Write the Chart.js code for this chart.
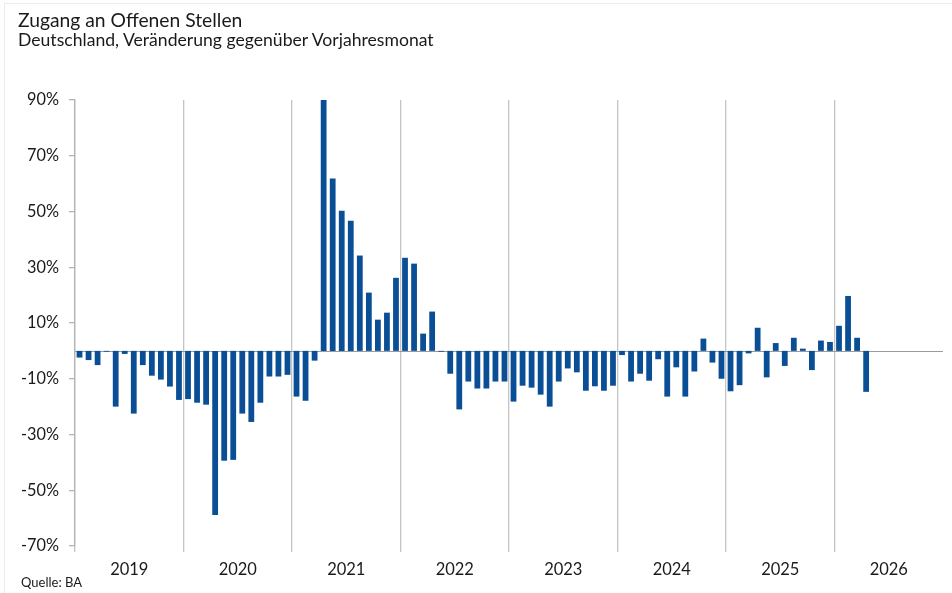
<!DOCTYPE html>
<html lang="de">
<head>
<meta charset="utf-8">
<title>Zugang an Offenen Stellen</title>
<script src="https://cdn.jsdelivr.net/npm/chart.js@4.4.1/dist/chart.umd.min.js"></script>
<style>
  body { margin: 0; background: #fff; font-family: Lato, "Open Sans", sans-serif; }
  #wrap { position: relative; width: 952px; height: 593px; overflow: hidden; }
  #frame { position: absolute; left: 4px; top: 3px; right: 0; bottom: 0;
           border-top: 1px solid #ececec; border-left: 1px solid #ececec; }
  canvas { position: absolute; left: 0; top: 0; }
  .txt { position: absolute; color: #1a1a1a; line-height: 1.2; white-space: nowrap; }
  #title { left: 18px; top: 8px; font-size: 19.3px; }
  #subtitle { left: 18px; top: 29px; font-size: 17.6px; }
  #source { left: 21px; top: 575px; font-size: 13px; }
</style>
</head>
<body>
<div id="wrap">
  <div id="frame"></div>
  <canvas id="chart" width="952" height="593"></canvas>
  <div class="txt" id="title">Zugang an Offenen Stellen</div>
  <div class="txt" id="subtitle">Deutschland, Veränderung gegenüber Vorjahresmonat</div>
  <div class="txt" id="source">Quelle: BA</div>
</div>
<script>
// ======== DATA (Veränderung ggü. Vorjahresmonat, %) ========
const years = ["2019", "2020", "2021", "2022", "2023", "2024", "2025", "2026"];

const v2019 = [-2.4, -3.3, -5.1, -0.3, -20.0, -1.1, -22.5, -5.1, -8.9, -10.3, -12.8, -17.6];
const v2020 = [-17.3, -18.6, -19.3, -58.9, -39.4, -39.1, -22.5, -25.5, -18.6, -9.2, -9.2, -8.6];
const v2021 = [-16.4, -17.9, -3.5, 91.0, 61.8, 50.3, 46.7, 34.2, 20.9, 11.2, 13.7, 26.2];
const v2022 = [33.4, 31.3, 6.2, 14.1, -0.3, -8.2, -21.0, -11.0, -13.5, -13.5, -11.0, -11.0];
const v2023 = [-18.2, -12.5, -13.2, -15.7, -20.0, -11.0, -6.3, -7.7, -14.3, -12.7, -14.3, -12.5];
const v2024 = [-1.5, -11.0, -8.2, -10.7, -3.0, -16.4, -5.9, -16.4, -7.4, 4.4, -4.2, -10.0];
const v2025 = [-14.5, -12.3, -0.9, 8.3, -9.5, 2.8, -5.4, 4.7, 0.8, -6.9, 3.7, 3.2];
const v2026 = [9.0, 19.7, 4.7, -14.7];

const yTicks = [-70, -50, -30, -10, 10, 30, 50, 70, 90];

// ======== BUILD MONTH AXIS ========
const monthLabels = [];
years.forEach((y) => {
    for (let m = 1; m <= 12; m++) monthLabels.push(y + "-" + String(m).padStart(2, "0"));
});

const values = [...v2019, ...v2020, ...v2021, ...v2022, ...v2023, ...v2024, ...v2025, ...v2026];
while (values.length < monthLabels.length) values.push(null);

// ======== ZERO LINE ========
const zeroLine = {
    id: "zeroLine",
    beforeDatasetsDraw(chart) {
        const { ctx, chartArea, scales } = chart;
        const y0 = Math.round(scales.y.getPixelForValue(0)) + 0.5;
        ctx.save();
        ctx.strokeStyle = "#9a9a9a";
        ctx.lineWidth = 1.2;
        ctx.beginPath();
        ctx.moveTo(chartArea.left, y0);
        ctx.lineTo(chartArea.right, y0);
        ctx.stroke();
        ctx.restore();
    },
};

// ======== CHART ========
new Chart(document.getElementById("chart"), {
    type: "bar",
    data: {
        labels: monthLabels,
        datasets: [
            {
                data: values,
                backgroundColor: "#0a4f96",
                barPercentage: 0.64,
                categoryPercentage: 1.0,
            },
        ],
    },
    options: {
        responsive: false,
        animation: false,
        layout: { padding: { top: 100, right: 9, bottom: 0, left: 0 } },
        plugins: { legend: { display: false }, tooltip: { enabled: false } },
        scales: {
            x: {
                border: { display: false },
                grid: {
                    offset: true,
                    lineWidth: 1.3,
                    tickLength: 6,
                    color: (c) => (c.index % 12 === 0 ? "#c4c4c4" : "rgba(0,0,0,0)"),
                },
                ticks: {
                    autoSkip: false,
                    maxRotation: 0,
                    padding: 8,
                    labelOffset: -4.5,
                    color: "#1a1a1a",
                    font: { family: "Lato", size: 16.5 },
                    callback: (val, i) => (i % 12 === 6 ? years[Math.floor(i / 12)] : ""),
                },
                afterFit: (scale) => { scale.height = 47; },
            },
            y: {
                min: -70,
                max: 90,
                border: { display: true, color: "#b4b4b4", width: 1.3 },
                grid: { drawOnChartArea: false, tickLength: 6, color: "#b4b4b4", lineWidth: 1.3 },
                afterBuildTicks: (scale) => { scale.ticks = yTicks.map((v) => ({ value: v })); },
                ticks: {
                    padding: 10,
                    color: "#1a1a1a",
                    font: { family: "Lato", size: 16.3 },
                    callback: (v) => v + "%",
                },
                afterFit: (scale) => { scale.width = 75; },
            },
        },
    },
    plugins: [zeroLine],
});
</script>
</body>
</html>
